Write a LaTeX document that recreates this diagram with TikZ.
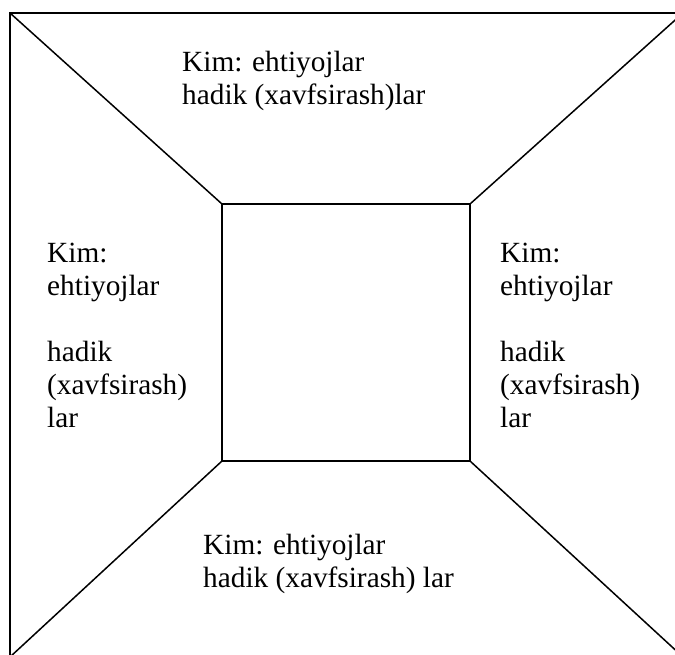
\documentclass[tikz,border=0pt]{standalone}
\usepackage{fontspec}
\setmainfont{Liberation Serif}
\usetikzlibrary{positioning}

\begin{document}
\begin{tikzpicture}[x=1pt,y=-1pt,
  frame/.style={draw,rectangle,outer sep=0pt,inner sep=0pt,line width=2pt},
  lbl/.style={anchor=base west,align=left,inner sep=0pt,
    font=\fontsize{29.3}{33}\selectfont},
  ray/.style={line width=1.5pt}]
\useasboundingbox (0,0) rectangle (675,655);
\clip (0,0) rectangle (675,655);
\node[frame,minimum width=673pt,minimum height=644pt] (outer) at (346.5,335) {};
\node[frame,minimum width=248pt,minimum height=257pt] (inner) at (346,332.5) {};
\draw[ray] (outer.north west)--(inner.north west);
\draw[ray] (outer.north east)--(inner.north east);
\draw[ray] (outer.south west)--(inner.south west);
\draw[ray] (outer.south east)--(inner.south east);
% base anchor sits on the last line
\node[lbl] (top) at (182,105) {Kim: ehtiyojlar\\hadik (xavfsirash)lar};
\node[lbl] (left) at (47,427) {Kim:\\ehtiyojlar\\[33pt]hadik\\(xavfsirash)\\lar};
\node[lbl] (right) at (500,427) {Kim:\\ehtiyojlar\\[33pt]hadik\\(xavfsirash)\\lar};
\node[lbl] (bottom) at (203,587) {Kim: ehtiyojlar\\hadik (xavfsirash) lar};
\end{tikzpicture}
\end{document}
